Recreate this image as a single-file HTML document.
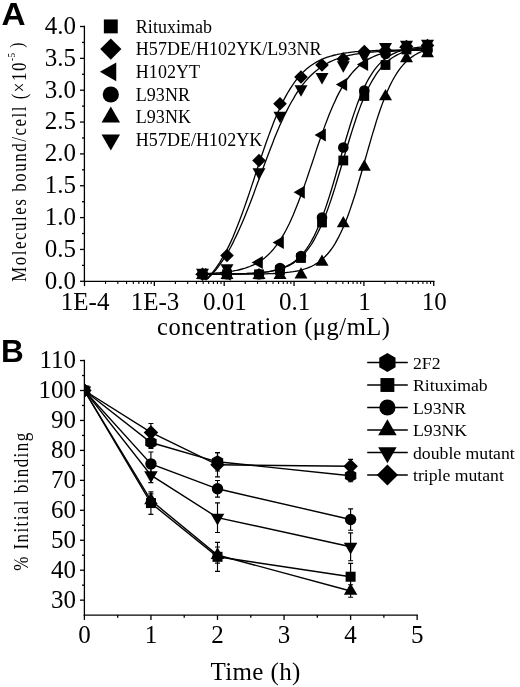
<!DOCTYPE html>
<html lang="en"><head><meta charset="utf-8"><title>Figure</title>
<style>html,body{margin:0;padding:0;background:#fff}body{width:520px;height:687px;overflow:hidden}svg text{white-space:pre}</style>
</head><body>
<svg width="520" height="687" viewBox="0 0 520 687" style="display:block;will-change:transform">
<rect width="520" height="687" fill="#fff"/>
<g font-family="'Liberation Sans', Arial, sans-serif" font-weight="bold" font-size="31.5" fill="#000">
<text transform="translate(1.5,25.2) scale(1.06,1)">A</text>
<text x="1" y="362.2">B</text>
</g>
<g stroke="#000" stroke-width="1.3" fill="none" stroke-linecap="butt">
<path d="M84.4,25.75 V282.05"/>
<path d="M83.65,281.3 H434.50"/>
<path d="M80.00,281.30 H84.4"/>
<path d="M82.00,265.38 H84.4"/>
<path d="M80.00,249.45 H84.4"/>
<path d="M82.00,233.53 H84.4"/>
<path d="M80.00,217.60 H84.4"/>
<path d="M82.00,201.68 H84.4"/>
<path d="M80.00,185.75 H84.4"/>
<path d="M82.00,169.82 H84.4"/>
<path d="M80.00,153.90 H84.4"/>
<path d="M82.00,137.97 H84.4"/>
<path d="M80.00,122.05 H84.4"/>
<path d="M82.00,106.12 H84.4"/>
<path d="M80.00,90.20 H84.4"/>
<path d="M82.00,74.28 H84.4"/>
<path d="M80.00,58.35 H84.4"/>
<path d="M82.00,42.43 H84.4"/>
<path d="M80.00,26.50 H84.4"/>
<path d="M84.50,281.3 V286.10"/>
<path stroke-width="1.1" d="M105.53,281.3 V283.90"/>
<path stroke-width="1.1" d="M117.83,281.3 V283.90"/>
<path stroke-width="1.1" d="M126.55,281.3 V283.90"/>
<path stroke-width="1.1" d="M133.32,281.3 V283.90"/>
<path stroke-width="1.1" d="M138.85,281.3 V283.90"/>
<path stroke-width="1.1" d="M143.53,281.3 V283.90"/>
<path stroke-width="1.1" d="M147.58,281.3 V283.90"/>
<path stroke-width="1.1" d="M151.15,281.3 V283.90"/>
<path d="M154.35,281.3 V286.10"/>
<path stroke-width="1.1" d="M175.38,281.3 V283.90"/>
<path stroke-width="1.1" d="M187.68,281.3 V283.90"/>
<path stroke-width="1.1" d="M196.40,281.3 V283.90"/>
<path stroke-width="1.1" d="M203.17,281.3 V283.90"/>
<path stroke-width="1.1" d="M208.70,281.3 V283.90"/>
<path stroke-width="1.1" d="M213.38,281.3 V283.90"/>
<path stroke-width="1.1" d="M217.43,281.3 V283.90"/>
<path stroke-width="1.1" d="M221.00,281.3 V283.90"/>
<path d="M224.20,281.3 V286.10"/>
<path stroke-width="1.1" d="M245.23,281.3 V283.90"/>
<path stroke-width="1.1" d="M257.53,281.3 V283.90"/>
<path stroke-width="1.1" d="M266.25,281.3 V283.90"/>
<path stroke-width="1.1" d="M273.02,281.3 V283.90"/>
<path stroke-width="1.1" d="M278.55,281.3 V283.90"/>
<path stroke-width="1.1" d="M283.23,281.3 V283.90"/>
<path stroke-width="1.1" d="M287.28,281.3 V283.90"/>
<path stroke-width="1.1" d="M290.85,281.3 V283.90"/>
<path d="M294.05,281.3 V286.10"/>
<path stroke-width="1.1" d="M315.08,281.3 V283.90"/>
<path stroke-width="1.1" d="M327.38,281.3 V283.90"/>
<path stroke-width="1.1" d="M336.10,281.3 V283.90"/>
<path stroke-width="1.1" d="M342.87,281.3 V283.90"/>
<path stroke-width="1.1" d="M348.40,281.3 V283.90"/>
<path stroke-width="1.1" d="M353.08,281.3 V283.90"/>
<path stroke-width="1.1" d="M357.13,281.3 V283.90"/>
<path stroke-width="1.1" d="M360.70,281.3 V283.90"/>
<path d="M363.90,281.3 V286.10"/>
<path stroke-width="1.1" d="M384.93,281.3 V283.90"/>
<path stroke-width="1.1" d="M397.23,281.3 V283.90"/>
<path stroke-width="1.1" d="M405.95,281.3 V283.90"/>
<path stroke-width="1.1" d="M412.72,281.3 V283.90"/>
<path stroke-width="1.1" d="M418.25,281.3 V283.90"/>
<path stroke-width="1.1" d="M422.93,281.3 V283.90"/>
<path stroke-width="1.1" d="M426.98,281.3 V283.90"/>
<path stroke-width="1.1" d="M430.55,281.3 V283.90"/>
<path d="M433.75,281.3 V286.10"/>
</g>
<g font-family="'Liberation Serif', 'Times New Roman', serif" font-size="25" fill="#000">
<text x="76.00" y="288.70" text-anchor="end">0.0</text>
<text x="76.00" y="256.85" text-anchor="end">0.5</text>
<text x="76.00" y="225.00" text-anchor="end">1.0</text>
<text x="76.00" y="193.15" text-anchor="end">1.5</text>
<text x="76.00" y="161.30" text-anchor="end">2.0</text>
<text x="76.00" y="129.45" text-anchor="end">2.5</text>
<text x="76.00" y="97.60" text-anchor="end">3.0</text>
<text x="76.00" y="65.75" text-anchor="end">3.5</text>
<text x="76.00" y="33.90" text-anchor="end">4.0</text>
<text x="85.10" y="309.80" text-anchor="middle">1E-4</text>
<text x="154.95" y="309.80" text-anchor="middle">1E-3</text>
<text x="224.80" y="309.80" text-anchor="middle">0.01</text>
<text x="294.65" y="309.80" text-anchor="middle">0.1</text>
<text x="364.50" y="309.80" text-anchor="middle">1</text>
<text x="434.35" y="309.80" text-anchor="middle">10</text>
</g>
<g font-family="'Liberation Serif', 'Times New Roman', serif" fill="#000">
<text x="157" y="334.6" font-size="24.5" textLength="233" lengthAdjust="spacing">concentration (μg/mL)</text>
<text transform="translate(25.8,281.8) rotate(-90) scale(0.82,1)" font-size="20.6" textLength="267.3" lengthAdjust="spacing">Molecules bound/cell (×10</text>
<text transform="translate(14.6,61.0) rotate(-90) scale(0.82,1)" font-size="11" letter-spacing="0.6">-5</text>
<text transform="translate(22.9,47.8) rotate(-90) scale(0.82,1)" font-size="18.5">)</text>
</g>
<g stroke="#000" stroke-width="1.3" fill="none">
<path d="M206.3,279.1 L208.2,277.2 L210.1,275.2 L212.0,273.1 L213.8,270.8 L215.7,268.3 L217.6,265.6 L219.5,262.8 L221.4,259.7 L223.3,256.5 L225.2,253.1 L227.1,249.4 L229.0,245.6 L230.9,241.6 L232.8,237.4 L234.6,232.9 L236.5,228.3 L238.4,223.5 L240.3,218.5 L242.2,213.4 L244.1,208.1 L246.0,202.7 L247.9,197.2 L249.8,191.6 L251.7,185.9 L253.6,180.2 L255.4,174.4 L257.3,168.7 L259.2,163.0 L261.1,157.3 L263.0,151.7 L264.9,146.2 L266.8,140.8 L268.7,135.6 L270.6,130.5 L272.5,125.6 L274.3,120.8 L276.2,116.2 L278.1,111.9 L280.0,107.7 L281.9,103.7 L283.8,99.9 L285.7,96.4 L287.6,93.0 L289.5,89.8 L291.4,86.8 L293.3,84.0 L295.1,81.4 L297.0,79.0 L298.9,76.7 L300.8,74.6 L302.7,72.6 L304.6,70.8 L306.5,69.1 L308.4,67.5 L310.3,66.1 L312.2,64.7 L314.1,63.5 L315.9,62.4 L317.8,61.3 L319.7,60.3 L321.6,59.5 L323.5,58.6 L325.4,57.9 L327.3,57.2 L329.2,56.6 L331.1,56.0 L333.0,55.5 L334.9,55.0 L336.7,54.6 L338.6,54.1 L340.5,53.8 L342.4,53.4 L344.3,53.1 L346.2,52.8 L348.1,52.6 L350.0,52.3 L351.9,52.1 L353.8,51.9 L355.7,51.7 L357.5,51.6 L359.4,51.4 L361.3,51.3 L363.2,51.2 L365.1,51.0 L367.0,50.9 L368.9,50.8 L370.8,50.8 L372.7,50.7 L374.6,50.6 L376.4,50.5 L378.3,50.5 L380.2,50.4 L382.1,50.4 L384.0,50.3 L385.9,50.3 L387.8,50.2 L389.7,50.2 L391.6,50.2 L393.5,50.1 L395.4,50.1 L397.2,50.1 L399.1,50.1 L401.0,50.1 L402.9,50.0 L404.8,50.0 L406.7,50.0 L408.6,50.0 L410.5,50.0 L412.4,50.0 L414.3,50.0 L416.2,49.9 L418.0,49.9 L419.9,49.9 L421.8,49.9 L423.7,49.9 L425.6,49.9 L427.5,49.9"/>
<path d="M206.3,279.8 L208.2,278.1 L210.1,276.3 L212.0,274.3 L213.8,272.2 L215.7,270.0 L217.6,267.6 L219.5,265.1 L221.4,262.4 L223.3,259.6 L225.2,256.6 L227.1,253.5 L229.0,250.2 L230.9,246.7 L232.8,243.1 L234.6,239.3 L236.5,235.4 L238.4,231.3 L240.3,227.1 L242.2,222.7 L244.1,218.2 L246.0,213.6 L247.9,208.8 L249.8,204.0 L251.7,199.0 L253.6,194.0 L255.4,188.9 L257.3,183.8 L259.2,178.7 L261.1,173.5 L263.0,168.4 L264.9,163.3 L266.8,158.2 L268.7,153.2 L270.6,148.2 L272.5,143.4 L274.3,138.6 L276.2,134.0 L278.1,129.5 L280.0,125.1 L281.9,120.9 L283.8,116.8 L285.7,112.9 L287.6,109.1 L289.5,105.5 L291.4,102.0 L293.3,98.8 L295.1,95.6 L297.0,92.7 L298.9,89.8 L300.8,87.2 L302.7,84.7 L304.6,82.3 L306.5,80.1 L308.4,78.0 L310.3,76.0 L312.2,74.2 L314.1,72.5 L315.9,70.9 L317.8,69.4 L319.7,67.9 L321.6,66.6 L323.5,65.4 L325.4,64.3 L327.3,63.2 L329.2,62.2 L331.1,61.3 L333.0,60.5 L334.9,59.7 L336.7,59.0 L338.6,58.3 L340.5,57.7 L342.4,57.1 L344.3,56.6 L346.2,56.1 L348.1,55.6 L350.0,55.2 L351.9,54.8 L353.8,54.4 L355.7,54.1 L357.5,53.8 L359.4,53.5 L361.3,53.2 L363.2,53.0 L365.1,52.8 L367.0,52.6 L368.9,52.4 L370.8,52.2 L372.7,52.0 L374.6,51.9 L376.4,51.7 L378.3,51.6 L380.2,51.5 L382.1,51.4 L384.0,51.3 L385.9,51.2 L387.8,51.1 L389.7,51.0 L391.6,50.9 L393.5,50.9 L395.4,50.8 L397.2,50.8 L399.1,50.7 L401.0,50.7 L402.9,50.6 L404.8,50.6 L406.7,50.5 L408.6,50.5 L410.5,50.5 L412.4,50.4 L414.3,50.4 L416.2,50.4 L418.0,50.4 L419.9,50.3 L421.8,50.3 L423.7,50.3 L425.6,50.3 L427.5,50.3"/>
<path d="M202.5,273.6 L204.4,273.6 L206.3,273.5 L208.2,273.4 L210.1,273.3 L212.0,273.2 L213.8,273.1 L215.7,273.0 L217.6,272.8 L219.5,272.7 L221.4,272.5 L223.3,272.3 L225.2,272.1 L227.1,271.9 L229.0,271.7 L230.9,271.4 L232.8,271.1 L234.6,270.7 L236.5,270.4 L238.4,270.0 L240.3,269.5 L242.2,269.0 L244.1,268.5 L246.0,267.9 L247.9,267.2 L249.8,266.5 L251.7,265.7 L253.6,264.9 L255.4,263.9 L257.3,262.9 L259.2,261.8 L261.1,260.5 L263.0,259.2 L264.9,257.7 L266.8,256.1 L268.7,254.3 L270.6,252.4 L272.5,250.3 L274.3,248.1 L276.2,245.7 L278.1,243.1 L280.0,240.3 L281.9,237.3 L283.8,234.1 L285.7,230.7 L287.6,227.0 L289.5,223.2 L291.4,219.1 L293.3,214.8 L295.1,210.3 L297.0,205.6 L298.9,200.7 L300.8,195.6 L302.7,190.4 L304.6,185.1 L306.5,179.6 L308.4,174.0 L310.3,168.4 L312.2,162.7 L314.1,157.1 L315.9,151.4 L317.8,145.8 L319.7,140.3 L321.6,134.9 L323.5,129.6 L325.4,124.4 L327.3,119.4 L329.2,114.6 L331.1,110.0 L333.0,105.6 L334.9,101.4 L336.7,97.4 L338.6,93.6 L340.5,90.1 L342.4,86.8 L344.3,83.6 L346.2,80.7 L348.1,78.0 L350.0,75.5 L351.9,73.2 L353.8,71.0 L355.7,69.0 L357.5,67.2 L359.4,65.5 L361.3,63.9 L363.2,62.5 L365.1,61.2 L367.0,60.0 L368.9,58.9 L370.8,57.9 L372.7,57.0 L374.6,56.2 L376.4,55.4 L378.3,54.7 L380.2,54.1 L382.1,53.5 L384.0,53.0 L385.9,52.5 L387.8,52.1 L389.7,51.7 L391.6,51.4 L393.5,51.0 L395.4,50.8 L397.2,50.5 L399.1,50.3 L401.0,50.0 L402.9,49.8 L404.8,49.7 L406.7,49.5 L408.6,49.4 L410.5,49.2 L412.4,49.1 L414.3,49.0 L416.2,48.9 L418.0,48.8 L419.9,48.7 L421.8,48.7 L423.7,48.6 L425.6,48.5 L427.5,48.5"/>
<path d="M202.5,274.3 L204.4,274.2 L206.3,274.2 L208.2,274.2 L210.1,274.2 L212.0,274.2 L213.8,274.2 L215.7,274.2 L217.6,274.2 L219.5,274.2 L221.4,274.2 L223.3,274.1 L225.2,274.1 L227.1,274.1 L229.0,274.1 L230.9,274.0 L232.8,274.0 L234.6,274.0 L236.5,273.9 L238.4,273.9 L240.3,273.8 L242.2,273.8 L244.1,273.7 L246.0,273.6 L247.9,273.5 L249.8,273.4 L251.7,273.3 L253.6,273.2 L255.4,273.1 L257.3,272.9 L259.2,272.8 L261.1,272.6 L263.0,272.4 L264.9,272.1 L266.8,271.9 L268.7,271.6 L270.6,271.2 L272.5,270.9 L274.3,270.4 L276.2,270.0 L278.1,269.4 L280.0,268.8 L281.9,268.2 L283.8,267.4 L285.7,266.6 L287.6,265.7 L289.5,264.7 L291.4,263.6 L293.3,262.3 L295.1,260.9 L297.0,259.3 L298.9,257.6 L300.8,255.7 L302.7,253.6 L304.6,251.3 L306.5,248.8 L308.4,246.0 L310.3,243.0 L312.2,239.6 L314.1,236.1 L315.9,232.2 L317.8,228.0 L319.7,223.6 L321.6,218.8 L323.5,213.7 L325.4,208.4 L327.3,202.8 L329.2,196.9 L331.1,190.8 L333.0,184.5 L334.9,178.0 L336.7,171.5 L338.6,164.8 L340.5,158.1 L342.4,151.5 L344.3,144.8 L346.2,138.3 L348.1,132.0 L350.0,125.8 L351.9,119.8 L353.8,114.1 L355.7,108.6 L357.5,103.4 L359.4,98.5 L361.3,93.9 L363.2,89.6 L365.1,85.6 L367.0,81.8 L368.9,78.4 L370.8,75.3 L372.7,72.4 L374.6,69.7 L376.4,67.3 L378.3,65.1 L380.2,63.1 L382.1,61.3 L384.0,59.7 L385.9,58.2 L387.8,56.9 L389.7,55.7 L391.6,54.6 L393.5,53.7 L395.4,52.8 L397.2,52.0 L399.1,51.3 L401.0,50.7 L402.9,50.2 L404.8,49.7 L406.7,49.2 L408.6,48.8 L410.5,48.5 L412.4,48.2 L414.3,47.9 L416.2,47.6 L418.0,47.4 L419.9,47.2 L421.8,47.0 L423.7,46.9 L425.6,46.7 L427.5,46.6"/>
<path d="M202.5,274.2 L204.4,274.2 L206.3,274.2 L208.2,274.2 L210.1,274.2 L212.0,274.2 L213.8,274.2 L215.7,274.2 L217.6,274.2 L219.5,274.2 L221.4,274.1 L223.3,274.1 L225.2,274.1 L227.1,274.1 L229.0,274.0 L230.9,274.0 L232.8,274.0 L234.6,273.9 L236.5,273.9 L238.4,273.8 L240.3,273.8 L242.2,273.7 L244.1,273.7 L246.0,273.6 L247.9,273.5 L249.8,273.4 L251.7,273.3 L253.6,273.2 L255.4,273.1 L257.3,272.9 L259.2,272.7 L261.1,272.6 L263.0,272.4 L264.9,272.1 L266.8,271.9 L268.7,271.6 L270.6,271.3 L272.5,270.9 L274.3,270.5 L276.2,270.1 L278.1,269.6 L280.0,269.1 L281.9,268.4 L283.8,267.8 L285.7,267.0 L287.6,266.2 L289.5,265.3 L291.4,264.2 L293.3,263.1 L295.1,261.8 L297.0,260.4 L298.9,258.9 L300.8,257.2 L302.7,255.4 L304.6,253.3 L306.5,251.1 L308.4,248.6 L310.3,246.0 L312.2,243.1 L314.1,239.9 L315.9,236.5 L317.8,232.8 L319.7,228.9 L321.6,224.7 L323.5,220.2 L325.4,215.4 L327.3,210.4 L329.2,205.1 L331.1,199.6 L333.0,193.8 L334.9,187.9 L336.7,181.8 L338.6,175.5 L340.5,169.2 L342.4,162.8 L344.3,156.4 L346.2,150.0 L348.1,143.7 L350.0,137.5 L351.9,131.4 L353.8,125.5 L355.7,119.8 L357.5,114.3 L359.4,109.1 L361.3,104.1 L363.2,99.4 L365.1,94.9 L367.0,90.7 L368.9,86.8 L370.8,83.2 L372.7,79.9 L374.6,76.8 L376.4,73.9 L378.3,71.3 L380.2,68.8 L382.1,66.6 L384.0,64.6 L385.9,62.8 L387.8,61.1 L389.7,59.6 L391.6,58.3 L393.5,57.0 L395.4,55.9 L397.2,54.9 L399.1,54.0 L401.0,53.2 L402.9,52.4 L404.8,51.8 L406.7,51.2 L408.6,50.6 L410.5,50.2 L412.4,49.7 L414.3,49.3 L416.2,49.0 L418.0,48.7 L419.9,48.4 L421.8,48.1 L423.7,47.9 L425.6,47.7 L427.5,47.5"/>
<path d="M202.5,274.3 L204.4,274.3 L206.3,274.3 L208.2,274.3 L210.1,274.3 L212.0,274.3 L213.8,274.3 L215.7,274.3 L217.6,274.3 L219.5,274.3 L221.4,274.3 L223.3,274.3 L225.2,274.3 L227.1,274.3 L229.0,274.3 L230.9,274.2 L232.8,274.2 L234.6,274.2 L236.5,274.2 L238.4,274.2 L240.3,274.2 L242.2,274.2 L244.1,274.2 L246.0,274.2 L247.9,274.1 L249.8,274.1 L251.7,274.1 L253.6,274.1 L255.4,274.0 L257.3,274.0 L259.2,274.0 L261.1,273.9 L263.0,273.9 L264.9,273.8 L266.8,273.8 L268.7,273.7 L270.6,273.6 L272.5,273.6 L274.3,273.5 L276.2,273.4 L278.1,273.3 L280.0,273.1 L281.9,273.0 L283.8,272.8 L285.7,272.6 L287.6,272.4 L289.5,272.2 L291.4,271.9 L293.3,271.7 L295.1,271.3 L297.0,271.0 L298.9,270.6 L300.8,270.1 L302.7,269.6 L304.6,269.0 L306.5,268.4 L308.4,267.7 L310.3,266.9 L312.2,266.0 L314.1,265.0 L315.9,263.9 L317.8,262.7 L319.7,261.3 L321.6,259.8 L323.5,258.1 L325.4,256.3 L327.3,254.2 L329.2,252.0 L331.1,249.5 L333.0,246.8 L334.9,243.9 L336.7,240.6 L338.6,237.1 L340.5,233.3 L342.4,229.2 L344.3,224.9 L346.2,220.2 L348.1,215.2 L350.0,209.9 L351.9,204.3 L353.8,198.5 L355.7,192.5 L357.5,186.2 L359.4,179.8 L361.3,173.2 L363.2,166.5 L365.1,159.8 L367.0,153.1 L368.9,146.5 L370.8,139.9 L372.7,133.4 L374.6,127.2 L376.4,121.1 L378.3,115.3 L380.2,109.7 L382.1,104.4 L384.0,99.4 L385.9,94.6 L387.8,90.2 L389.7,86.1 L391.6,82.3 L393.5,78.8 L395.4,75.5 L397.2,72.6 L399.1,69.8 L401.0,67.3 L402.9,65.1 L404.8,63.0 L406.7,61.1 L408.6,59.5 L410.5,57.9 L412.4,56.6 L414.3,55.3 L416.2,54.2 L418.0,53.2 L419.9,52.3 L421.8,51.5 L423.7,50.8 L425.6,50.2 L427.5,49.6"/>
</g>
<g fill="#000" stroke="none">
<rect x="197.60" y="269.40" width="9.80" height="9.80"/>
<rect x="222.10" y="269.40" width="9.80" height="9.80"/>
<rect x="254.10" y="269.40" width="9.80" height="9.80"/>
<rect x="275.10" y="265.10" width="9.80" height="9.80"/>
<rect x="296.10" y="253.10" width="9.80" height="9.80"/>
<rect x="317.10" y="217.60" width="9.80" height="9.80"/>
<rect x="338.40" y="155.60" width="9.80" height="9.80"/>
<rect x="359.40" y="91.10" width="9.80" height="9.80"/>
<rect x="380.60" y="60.10" width="9.80" height="9.80"/>
<rect x="401.60" y="44.60" width="9.80" height="9.80"/>
<rect x="422.60" y="43.10" width="9.80" height="9.80"/>
<circle cx="202.50" cy="274.30" r="5.30"/>
<circle cx="227.00" cy="274.30" r="5.30"/>
<circle cx="259.00" cy="274.30" r="5.30"/>
<circle cx="280.00" cy="268.00" r="5.30"/>
<circle cx="301.00" cy="256.00" r="5.30"/>
<circle cx="322.00" cy="217.50" r="5.30"/>
<circle cx="343.30" cy="147.50" r="5.30"/>
<circle cx="364.30" cy="90.50" r="5.30"/>
<circle cx="385.50" cy="54.00" r="5.30"/>
<circle cx="406.50" cy="48.00" r="5.30"/>
<circle cx="427.50" cy="50.00" r="5.30"/>
<polygon points="196.00,279.03 209.00,279.03 202.50,267.77"/>
<polygon points="220.50,279.03 233.50,279.03 227.00,267.77"/>
<polygon points="252.50,279.03 265.50,279.03 259.00,267.77"/>
<polygon points="273.50,279.03 286.50,279.03 280.00,267.77"/>
<polygon points="294.50,278.48 307.50,278.48 301.00,267.22"/>
<polygon points="315.50,265.73 328.50,265.73 322.00,254.47"/>
<polygon points="336.80,227.23 349.80,227.23 343.30,215.97"/>
<polygon points="357.80,170.73 370.80,170.73 364.30,159.47"/>
<polygon points="379.00,100.23 392.00,100.23 385.50,88.97"/>
<polygon points="400.00,62.23 413.00,62.23 406.50,50.97"/>
<polygon points="421.00,57.23 434.00,57.23 427.50,45.97"/>
<polygon points="196.00,268.67 209.00,268.67 202.50,279.93"/>
<polygon points="220.50,264.37 233.50,264.37 227.00,275.63"/>
<polygon points="252.50,168.37 265.50,168.37 259.00,179.63"/>
<polygon points="273.50,111.87 286.50,111.87 280.00,123.13"/>
<polygon points="294.50,85.37 307.50,85.37 301.00,96.63"/>
<polygon points="315.50,73.12 328.50,73.12 322.00,84.38"/>
<polygon points="336.80,61.37 349.80,61.37 343.30,72.63"/>
<polygon points="357.80,51.87 370.80,51.87 364.30,63.13"/>
<polygon points="379.00,42.97 392.00,42.97 385.50,54.23"/>
<polygon points="400.00,40.87 413.00,40.87 406.50,52.13"/>
<polygon points="421.00,39.87 434.00,39.87 427.50,51.13"/>
<polygon points="195.70,274.30 202.50,267.50 209.30,274.30 202.50,281.10"/>
<polygon points="220.20,255.50 227.00,248.70 233.80,255.50 227.00,262.30"/>
<polygon points="252.20,160.50 259.00,153.70 265.80,160.50 259.00,167.30"/>
<polygon points="273.20,103.75 280.00,96.95 286.80,103.75 280.00,110.55"/>
<polygon points="294.20,77.00 301.00,70.20 307.80,77.00 301.00,83.80"/>
<polygon points="315.20,65.00 322.00,58.20 328.80,65.00 322.00,71.80"/>
<polygon points="336.50,59.00 343.30,52.20 350.10,59.00 343.30,65.80"/>
<polygon points="357.50,51.50 364.30,44.70 371.10,51.50 364.30,58.30"/>
<polygon points="378.70,50.50 385.50,43.70 392.30,50.50 385.50,57.30"/>
<polygon points="399.70,46.50 406.50,39.70 413.30,46.50 406.50,53.30"/>
<polygon points="420.70,45.50 427.50,38.70 434.30,45.50 427.50,52.30"/>
<polygon points="206.33,267.80 206.33,280.80 195.07,274.30"/>
<polygon points="230.83,267.80 230.83,280.80 219.57,274.30"/>
<polygon points="262.83,256.00 262.83,269.00 251.57,262.50"/>
<polygon points="283.83,236.00 283.83,249.00 272.57,242.50"/>
<polygon points="304.83,185.80 304.83,198.80 293.57,192.30"/>
<polygon points="325.83,128.50 325.83,141.50 314.57,135.00"/>
<polygon points="347.13,78.00 347.13,91.00 335.87,84.50"/>
<polygon points="368.13,58.00 368.13,71.00 356.87,64.50"/>
<polygon points="389.33,45.50 389.33,58.50 378.07,52.00"/>
<polygon points="410.33,41.00 410.33,54.00 399.07,47.50"/>
<polygon points="431.33,42.50 431.33,55.50 420.07,49.00"/>
</g>
<g fill="#000">
<rect x="103.85" y="19.45" width="13.90" height="13.90"/>
<polygon points="100.20,49.10 110.80,38.50 121.40,49.10 110.80,59.70"/>
<polygon points="116.23,62.40 116.23,81.20 99.95,71.80"/>
<circle cx="110.80" cy="94.50" r="8.10"/>
<polygon points="101.55,122.54 120.05,122.54 110.80,106.52"/>
<polygon points="101.55,134.56 120.05,134.56 110.80,150.58"/>
</g>
<g font-family="'Liberation Serif', 'Times New Roman', serif" font-size="18" fill="#000">
<text x="135.8" y="32.50" letter-spacing="0.04">Rituximab</text>
<text x="135.8" y="55.20" letter-spacing="0.04">H57DE/H102YK/L93NR</text>
<text x="135.8" y="77.90" letter-spacing="0.04">H102YT</text>
<text x="135.8" y="100.60" letter-spacing="0.04">L93NR</text>
<text x="135.8" y="123.30" letter-spacing="0.04">L93NK</text>
<text x="135.8" y="146.00" letter-spacing="0.04">H57DE/H102YK</text>
</g>
<g stroke="#000" stroke-width="1.3" fill="none">
<path d="M84.4,359.80 V615.85"/>
<path d="M83.65,615.1 H417.90"/>
<path d="M80.00,600.15 H84.4"/>
<path d="M82.00,585.17 H84.4"/>
<path d="M80.00,570.20 H84.4"/>
<path d="M82.00,555.23 H84.4"/>
<path d="M80.00,540.25 H84.4"/>
<path d="M82.00,525.27 H84.4"/>
<path d="M80.00,510.30 H84.4"/>
<path d="M82.00,495.32 H84.4"/>
<path d="M80.00,480.35 H84.4"/>
<path d="M82.00,465.38 H84.4"/>
<path d="M80.00,450.40 H84.4"/>
<path d="M82.00,435.43 H84.4"/>
<path d="M80.00,420.45 H84.4"/>
<path d="M82.00,405.48 H84.4"/>
<path d="M80.00,390.50 H84.4"/>
<path d="M82.00,375.52 H84.4"/>
<path d="M80.00,360.55 H84.4"/>
<path d="M84.40,615.1 V619.90"/>
<path d="M117.68,615.1 V617.70"/>
<path d="M150.95,615.1 V619.90"/>
<path d="M184.22,615.1 V617.70"/>
<path d="M217.50,615.1 V619.90"/>
<path d="M250.78,615.1 V617.70"/>
<path d="M284.05,615.1 V619.90"/>
<path d="M317.32,615.1 V617.70"/>
<path d="M350.60,615.1 V619.90"/>
<path d="M383.88,615.1 V617.70"/>
<path d="M417.15,615.1 V619.90"/>
</g>
<g font-family="'Liberation Serif', 'Times New Roman', serif" font-size="25" fill="#000">
<text x="76.00" y="607.65" text-anchor="end">30</text>
<text x="76.00" y="577.70" text-anchor="end">40</text>
<text x="76.00" y="547.75" text-anchor="end">50</text>
<text x="76.00" y="517.80" text-anchor="end">60</text>
<text x="76.00" y="487.85" text-anchor="end">70</text>
<text x="76.00" y="457.90" text-anchor="end">80</text>
<text x="76.00" y="427.95" text-anchor="end">90</text>
<text x="76.00" y="398.00" text-anchor="end">100</text>
<text x="76.00" y="368.05" text-anchor="end">110</text>
<text x="84.40" y="643.10" text-anchor="middle">0</text>
<text x="150.95" y="643.10" text-anchor="middle">1</text>
<text x="217.50" y="643.10" text-anchor="middle">2</text>
<text x="284.05" y="643.10" text-anchor="middle">3</text>
<text x="350.60" y="643.10" text-anchor="middle">4</text>
<text x="417.15" y="643.10" text-anchor="middle">5</text>
</g>
<g font-family="'Liberation Serif', 'Times New Roman', serif" fill="#000">
<text x="210.4" y="680" font-size="25" textLength="90" lengthAdjust="spacing">Time (h)</text>
<text transform="translate(28.1,570.8) rotate(-90) scale(0.82,1)" font-size="20.8" textLength="168.3" lengthAdjust="spacing">% Initial binding</text>
</g>
<clipPath id="cb"><rect x="84.4" y="340" width="440" height="275.1"/></clipPath>
<g clip-path="url(#cb)">
<g stroke="#000" stroke-width="1.4" fill="none">
<path d="M84.4,390.5 L150.9,442.5 L217.5,461.8 L350.6,475.7"/>
<path d="M84.4,390.5 L150.9,503.1 L217.5,556.8 L350.6,576.7"/>
<path d="M84.4,390.5 L150.9,463.9 L217.5,488.8 L350.6,519.5"/>
<path d="M84.4,390.5 L150.9,500.4 L217.5,555.0 L350.6,591.0"/>
<path d="M84.4,390.5 L150.9,475.1 L217.5,517.6 L350.6,546.7"/>
<path d="M84.4,390.5 L150.9,432.4 L217.5,464.8 L350.6,466.2"/>
</g>
<g stroke="#000" stroke-width="1.15" fill="none">
<path d="M150.9,436.5 V448.4 M148.4,436.5 h5 M148.4,448.4 h5"/>
<path d="M217.5,452.6 V471.0 M215.0,452.6 h5 M215.0,471.0 h5"/>
<path d="M350.6,469.8 V481.7 M348.1,469.8 h5 M348.1,481.7 h5"/>
<path d="M150.9,491.8 V514.3 M148.4,491.8 h5 M148.4,514.3 h5"/>
<path d="M217.5,542.3 V571.4 M215.0,542.3 h5 M215.0,571.4 h5"/>
<path d="M350.6,563.4 V590.1 M348.1,563.4 h5 M348.1,590.1 h5"/>
<path d="M150.9,452.0 V475.7 M148.4,452.0 h5 M148.4,475.7 h5"/>
<path d="M217.5,480.5 V497.1 M215.0,480.5 h5 M215.0,497.1 h5"/>
<path d="M350.6,508.9 V530.2 M348.1,508.9 h5 M348.1,530.2 h5"/>
<path d="M150.9,493.9 V506.9 M148.4,493.9 h5 M148.4,506.9 h5"/>
<path d="M217.5,547.0 V563.1 M215.0,547.0 h5 M215.0,563.1 h5"/>
<path d="M350.6,584.7 V597.2 M348.1,584.7 h5 M348.1,597.2 h5"/>
<path d="M150.9,467.7 V482.6 M148.4,467.7 h5 M148.4,482.6 h5"/>
<path d="M217.5,502.8 V532.5 M215.0,502.8 h5 M215.0,532.5 h5"/>
<path d="M350.6,532.8 V560.7 M348.1,532.8 h5 M348.1,560.7 h5"/>
<path d="M150.9,423.5 V441.3 M148.4,423.5 h5 M148.4,441.3 h5"/>
<path d="M217.5,452.6 V476.9 M215.0,452.6 h5 M215.0,476.9 h5"/>
<path d="M350.6,459.4 V473.1 M348.1,459.4 h5 M348.1,473.1 h5"/>
</g>
<g fill="#000">
<polygon points="84.40,383.90 78.68,387.20 78.68,393.80 84.40,397.10 90.12,393.80 90.12,387.20"/>
<polygon points="150.95,435.88 145.23,439.18 145.23,445.78 150.95,449.08 156.67,445.78 156.67,439.18"/>
<polygon points="217.50,455.18 211.78,458.48 211.78,465.08 217.50,468.38 223.22,465.08 223.22,458.48"/>
<polygon points="350.60,469.14 344.88,472.44 344.88,479.04 350.60,482.34 356.32,479.04 356.32,472.44"/>
<rect x="79.40" y="385.50" width="10.00" height="10.00"/>
<rect x="145.95" y="498.06" width="10.00" height="10.00"/>
<rect x="212.50" y="551.82" width="10.00" height="10.00"/>
<rect x="345.60" y="571.72" width="10.00" height="10.00"/>
<circle cx="84.40" cy="390.50" r="5.70"/>
<circle cx="150.95" cy="463.86" r="5.70"/>
<circle cx="217.50" cy="488.81" r="5.70"/>
<circle cx="350.60" cy="519.55" r="5.70"/>
<polygon points="77.65,394.40 91.15,394.40 84.40,382.71"/>
<polygon points="144.20,504.29 157.70,504.29 150.95,492.60"/>
<polygon points="210.75,558.94 224.25,558.94 217.50,547.24"/>
<polygon points="343.85,594.87 357.35,594.87 350.60,583.18"/>
<polygon points="77.65,386.60 91.15,386.60 84.40,398.29"/>
<polygon points="144.20,471.25 157.70,471.25 150.95,482.94"/>
<polygon points="210.75,513.72 224.25,513.72 217.50,525.41"/>
<polygon points="343.85,542.82 357.35,542.82 350.60,554.52"/>
<polygon points="77.15,390.50 84.40,383.25 91.65,390.50 84.40,397.75"/>
<polygon points="143.70,432.38 150.95,425.13 158.20,432.38 150.95,439.63"/>
<polygon points="210.25,464.75 217.50,457.50 224.75,464.75 217.50,472.00"/>
<polygon points="343.35,466.24 350.60,458.99 357.85,466.24 350.60,473.49"/>
</g>
</g>
<g stroke="#000" stroke-width="1.3">
<path d="M367.2,362.50 H407.8"/>
<path d="M367.2,385.00 H407.8"/>
<path d="M367.2,407.50 H407.8"/>
<path d="M367.2,430.00 H407.8"/>
<path d="M367.2,452.50 H407.8"/>
<path d="M367.2,475.00 H407.8"/>
</g>
<g fill="#000">
<polygon points="387.40,353.10 379.26,357.80 379.26,367.20 387.40,371.90 395.54,367.20 395.54,357.80"/>
<rect x="380.45" y="378.05" width="13.90" height="13.90"/>
<circle cx="387.40" cy="407.50" r="8.10"/>
<polygon points="378.15,435.34 396.65,435.34 387.40,419.32"/>
<polygon points="378.15,447.16 396.65,447.16 387.40,463.18"/>
<polygon points="376.80,475.00 387.40,464.40 398.00,475.00 387.40,485.60"/>
</g>
<g font-family="'Liberation Serif', 'Times New Roman', serif" font-size="17.7" fill="#000">
<text x="413" y="368.50">2F2</text>
<text x="413" y="391.00">Rituximab</text>
<text x="413" y="413.50">L93NR</text>
<text x="413" y="436.00">L93NK</text>
<text x="413" y="458.50">double mutant</text>
<text x="413" y="481.00">triple mutant</text>
</g>
</svg>
</body></html>
